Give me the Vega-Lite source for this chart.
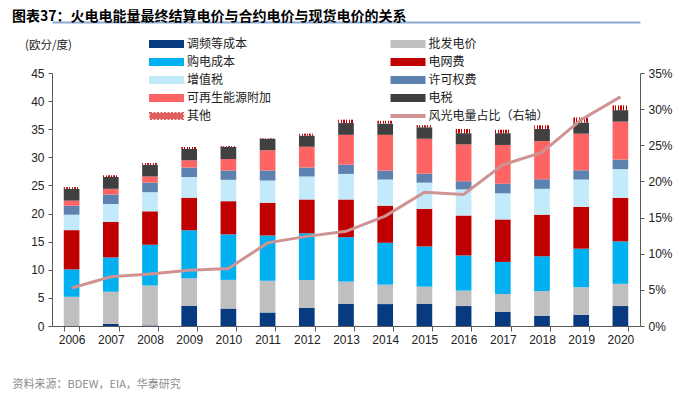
{
  "$schema": "https://vega.github.io/schema/vega-lite/v6.json",
  "width": 588,
  "height": 253,
  "autosize": {"type": "none"},
  "padding": {"left": 52, "top": 73, "right": 60, "bottom": 69},
  "background": "white",
  "config": {
    "font": "Noto Sans CJK SC",
    "view": {"stroke": null},
    "axis": {
      "labelFont": "Liberation Sans",
      "labelFontSize": 12,
      "labelColor": "#222222",
      "domainColor": "#595959",
      "tickColor": "#595959",
      "grid": false,
      "titleFont": "Noto Sans CJK SC",
      "titleFontWeight": "normal"
    }
  },
  "title": {
    "text": "图表37：火电电能量最终结算电价与合约电价与现货电价的关系",
    "anchor": "start",
    "frame": "group",
    "dx": -40,
    "offset": -2,
    "fontSize": 14,
    "fontWeight": "bold",
    "color": "#000000",
    "font": "Noto Sans CJK SC"
  },
  "data": {
    "values": [
      {"year": "2006", "调频等成本": 0, "批发电价": 5.2, "购电成本": 4.87, "电网费": 6.98, "增值税": 2.75, "许可权费": 1.6, "可再生能源附加": 0.9, "电税": 2.1, "其他": 0.3, "share": 0.0525},
      {"year": "2007", "调频等成本": 0.4, "批发电价": 5.7, "购电成本": 6.1, "电网费": 6.3, "增值税": 3.2, "许可权费": 1.7, "可再生能源附加": 1.0, "电税": 2.1, "其他": 0.3, "share": 0.068},
      {"year": "2008", "调频等成本": 0.1, "批发电价": 7.1, "购电成本": 7.25, "电网费": 5.95, "增值税": 3.4, "许可权费": 1.7, "可再生能源附加": 1.1, "电税": 2.1, "其他": 0.3, "share": 0.072},
      {"year": "2009", "调频等成本": 3.55, "批发电价": 4.95, "购电成本": 8.55, "电网费": 5.75, "增值税": 3.7, "许可权费": 1.7, "可再生能源附加": 1.3, "电税": 2.0, "其他": 0.35, "share": 0.077},
      {"year": "2010", "调频等成本": 3.1, "批发电价": 5.1, "购电成本": 8.1, "电网费": 5.9, "增值税": 3.8, "许可权费": 1.65, "可再生能源附加": 2.05, "电税": 2.15, "其他": 0.15, "share": 0.0795},
      {"year": "2011", "调频等成本": 2.4, "批发电价": 5.65, "购电成本": 8.05, "电网费": 5.8, "增值税": 4.0, "许可权费": 1.75, "可再生能源附加": 3.6, "电税": 2.05, "其他": 0.1, "share": 0.115},
      {"year": "2012", "调频等成本": 3.25, "批发电价": 4.95, "购电成本": 8.3, "电网费": 6.0, "增值税": 4.1, "许可权费": 1.6, "可再生能源附加": 3.7, "电税": 2.0, "其他": 0.3, "share": 0.124},
      {"year": "2013", "调频等成本": 3.97, "批发电价": 3.93, "购电成本": 7.9, "电网费": 6.7, "增值税": 4.55, "许可权费": 1.65, "可再生能源附加": 5.3, "电税": 2.1, "其他": 0.6, "share": 0.131},
      {"year": "2014", "调频等成本": 3.9, "批发电价": 3.45, "购电成本": 7.45, "电网费": 6.6, "增值税": 4.65, "许可权费": 1.6, "可再生能源附加": 6.35, "电税": 2.0, "其他": 0.5, "share": 0.152},
      {"year": "2015", "调频等成本": 3.97, "批发电价": 3.03, "购电成本": 7.15, "电网费": 6.7, "增值税": 4.65, "许可权费": 1.6, "可再生能源附加": 6.2, "电税": 2.05, "其他": 0.35, "share": 0.185},
      {"year": "2016", "调频等成本": 3.55, "批发电价": 2.75, "购电成本": 6.25, "电网费": 7.1, "增值税": 4.65, "许可权费": 1.45, "可再生能源附加": 6.55, "电税": 2.0, "其他": 0.75, "share": 0.182},
      {"year": "2017", "调频等成本": 2.5, "批发电价": 3.2, "购电成本": 5.7, "电网费": 7.55, "增值税": 4.65, "许可权费": 1.7, "可再生能源附加": 6.9, "电税": 2.1, "其他": 0.6, "share": 0.223},
      {"year": "2018", "调频等成本": 1.8, "批发电价": 4.4, "购电成本": 6.2, "电网费": 7.4, "增值税": 4.6, "许可权费": 1.7, "可再生能源附加": 6.8, "电税": 2.15, "其他": 0.65, "share": 0.24},
      {"year": "2019", "调频等成本": 2.0, "批发电价": 4.9, "购电成本": 6.85, "电网费": 7.45, "增值税": 4.85, "许可权费": 1.65, "可再生能源附加": 6.5, "电税": 2.0, "其他": 0.9, "share": 0.2855},
      {"year": "2020", "调频等成本": 3.55, "批发电价": 3.95, "购电成本": 7.55, "电网费": 7.75, "增值税": 5.1, "许可权费": 1.7, "可再生能源附加": 6.75, "电税": 2.05, "其他": 0.85, "share": 0.317}
    ]
  },
  "encoding": {
    "x": {
      "field": "year",
      "type": "ordinal",
      "scale": {"paddingInner": 0.6, "paddingOuter": 0.3},
      "axis": {
        "labelAngle": 0,
        "tickBand": "extent",
        "tickSize": 5,
        "labelPadding": 3,
        "title": "资料来源：BDEW，EIA，华泰研究",
        "titleAnchor": "start",
        "titleAlign": "left",
        "titleX": -40,
        "titleY": 58,
        "titleBaseline": "middle",
        "titleFontSize": 11,
        "titleColor": "#8c8c8c"
      }
    }
  },
  "layer": [
    {
      "transform": [
        {"fold": ["调频等成本", "批发电价", "购电成本", "电网费", "增值税", "许可权费", "可再生能源附加", "电税", "其他"], "as": ["cat", "value"]},
        {"calculate": "indexof(['调频等成本', '批发电价', '购电成本', '电网费', '增值税', '许可权费', '可再生能源附加', '电税', '其他'], datum.cat)", "as": "stackIndex"}
      ],
      "mark": {"type": "bar"},
      "encoding": {
        "y": {
          "field": "value",
          "type": "quantitative",
          "stack": "zero",
          "scale": {"domain": [0, 45], "nice": false},
          "axis": {
            "values": [0, 5, 10, 15, 20, 25, 30, 35, 40, 45],
            "tickSize": 4,
            "labelPadding": 4,
            "title": "(欧分/度)",
            "titleAngle": 0,
            "titleX": -4,
            "titleY": -28,
            "titleAlign": "center",
            "titleBaseline": "middle",
            "titleFontSize": 11.5,
            "titleColor": "#222222"
          }
        },
        "order": {"field": "stackIndex", "type": "quantitative", "sort": "ascending"},
        "color": {
          "field": "cat",
          "type": "nominal",
          "condition": {
            "test": "datum.cat === '其他'",
            "value": {
              "gradient": "linear", "x1": 0, "x2": 1, "y1": 0, "y2": 0,
              "stops": [
                {"offset": 0, "color": "#c00000"}, {"offset": 0.08, "color": "#c00000"}, {"offset": 0.08, "color": "#ffffff"}, {"offset": 0.17, "color": "#ffffff"},
                {"offset": 0.17, "color": "#c00000"}, {"offset": 0.25, "color": "#c00000"}, {"offset": 0.25, "color": "#ffffff"}, {"offset": 0.33, "color": "#ffffff"},
                {"offset": 0.33, "color": "#c00000"}, {"offset": 0.42, "color": "#c00000"}, {"offset": 0.42, "color": "#ffffff"}, {"offset": 0.5, "color": "#ffffff"},
                {"offset": 0.5, "color": "#c00000"}, {"offset": 0.58, "color": "#c00000"}, {"offset": 0.58, "color": "#ffffff"}, {"offset": 0.67, "color": "#ffffff"},
                {"offset": 0.67, "color": "#c00000"}, {"offset": 0.75, "color": "#c00000"}, {"offset": 0.75, "color": "#ffffff"}, {"offset": 0.83, "color": "#ffffff"},
                {"offset": 0.83, "color": "#c00000"}, {"offset": 0.92, "color": "#c00000"}, {"offset": 0.92, "color": "#ffffff"}, {"offset": 1, "color": "#ffffff"}
              ]
            }
          },
          "scale": {
            "domain": ["调频等成本", "批发电价", "购电成本", "电网费", "增值税", "许可权费", "可再生能源附加", "电税", "其他", "风光电量占比（右轴）"],
            "range": ["#073a7e", "#bfbfbf", "#00b0f0", "#c00000", "#c3eafb", "#5d82b0", "#ff6464", "#404040", "#e06060", "#d09393"]
          },
          "legend": {
            "title": null,
            "orient": "none",
            "legendX": 108.5,
            "legendY": -35,
            "direction": "horizontal",
            "columns": 2,
            "columnPadding": 115.5,
            "rowPadding": 4,
            "padding": 0,
            "labelOffset": 14.5,
            "labelFont": "Noto Sans CJK SC",
            "labelFontSize": 12,
            "labelColor": "#222222",
            "symbolType": "M-5.5,-1H5.5V1H-5.5Z",
            "symbolSize": 36,
            "encode": {
              "symbols": {
                "update": {
                  "shape": [{"test": "datum.value === '风光电量占比（右轴）'", "value": "M-5.5,-0.3H5.5V0.3H-5.5Z"}, {"value": "M-5.5,-1H5.5V1H-5.5Z"}],
                  "fill": [{"test": "datum.value === '其他'", "value": "#ffffff"}, {"scale": "color", "field": "value"}],
                  "stroke": [{"test": "datum.value === '其他'", "value": "#c00000"}, {"value": "transparent"}],
                  "strokeWidth": {"value": 2},
                  "strokeDash": [{"test": "datum.value === '其他'", "value": [2, 1.5]}, {"value": []}],
                  "opacity": {"value": 1}
                }
              }
            }
          }
        }
      }
    },
    {
      "mark": {"type": "line", "strokeWidth": 3},
      "encoding": {
        "x": {
          "field": "year",
          "type": "ordinal",
          "axis": {
            "orient": "top",
            "offset": 51,
            "labels": false,
            "ticks": false,
            "title": null,
            "domainColor": "#8eaad2",
            "domainWidth": 2
          }
        },
        "y": {
          "field": "share",
          "type": "quantitative",
          "scale": {"domain": [0, 0.35], "nice": false},
          "axis": {
            "orient": "right",
            "values": [0, 0.05, 0.1, 0.15, 0.2, 0.25, 0.3, 0.35],
            "format": ".0%",
            "tickSize": 4,
            "labelPadding": 4,
            "title": null
          }
        },
        "color": {"datum": "风光电量占比（右轴）", "type": "nominal"}
      }
    }
  ],
  "resolve": {"scale": {"y": "independent"}, "axis": {"x": "independent"}}
}
